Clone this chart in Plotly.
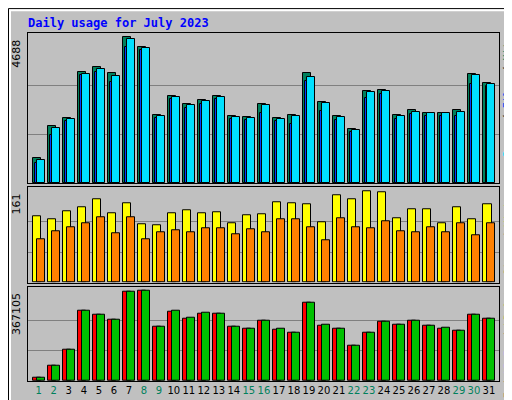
import plotly.graph_objects as go
from plotly.subplots import make_subplots

days = list(range(1, 32))
weekend = [1, 2, 8, 9, 15, 16, 22, 23, 29, 30]

hits = [820, 1843, 2098, 3568, 3728, 3536, 4688, 4367, 2194, 2801, 2545, 2673, 2801, 2162, 2130, 2545,
        2098, 2194, 3536, 2609, 2162, 1747, 2961, 2993, 2194, 2354, 2258, 2258, 2354, 3504, 3216]
files = [756, 1779, 2066, 3504, 3664, 3440, 4622, 4335, 2162, 2769, 2514, 2641, 2769, 2130, 2098, 2514,
         2066, 2162, 3408, 2577, 2130, 1715, 2929, 2961, 2162, 2290, 2258, 2258, 2290, 3472, 3185]
pages = [660, 1555, 2002, 3472, 3568, 3249, 4367, 4271, 2098, 2705, 2417, 2545, 2705, 2066, 2034, 2258,
         2002, 1907, 3280, 2322, 2034, 1651, 2737, 2865, 2066, 2226, 2162, 2162, 2162, 3185, 3121]
visits = [117, 112, 126, 133, 147, 122, 140, 103, 101, 122, 128, 122, 124, 105, 119, 121,
          142, 140, 138, 107, 154, 147, 161, 159, 114, 129, 129, 105, 133, 112, 138]
sites = [77, 91, 98, 105, 115, 87, 115, 77, 89, 93, 89, 96, 96, 86, 94, 89,
         112, 112, 98, 75, 114, 98, 96, 108, 91, 89, 98, 89, 105, 84, 105]
kb_f = [12058, 60291, 128621, 285377, 269300, 249203, 361746, 367105, 221067, 281358, 253222, 273319,
        273319, 221067, 213028, 245184, 209009, 196951, 317533, 225086, 213028, 144698, 196951, 241165,
        229106, 245184, 225086, 213028, 204989, 269300, 253222]
kb_out = [12058, 60291, 128621, 285377, 269300, 249203, 361746, 367105, 221067, 285377, 257242, 277338,
          273319, 221067, 213028, 245184, 213028, 196951, 317533, 229106, 213028, 144698, 196951, 241165,
          229106, 245184, 225086, 217047, 204989, 269300, 253222]

GREY = "#C0C0C0"
line = dict(color="black", width=1)

fig = make_subplots(rows=3, cols=1, shared_xaxes=True)

def bars(y, color, x0, x1, row):
    fig.add_trace(go.Bar(x=days, y=y, offset=x0, width=x1 - x0, marker=dict(color=color, line=line),
                         showlegend=False, hoverinfo="skip"), row=row, col=1)

bars(hits, "#00805C", -0.39, 0.13, 1)
bars(files, "#00E0FF", -0.12, 0.39, 1)
bars(pages, "#0040FF", -0.23, -0.10, 1)
bars(visits, "#FFFF00", -0.39, 0.17, 2)
bars(sites, "#FF8000", -0.10, 0.39, 2)
bars(kb_f, "#FF0000", -0.39, 0.13, 3)
bars(kb_out, "#00C000", -0.14, 0.39, 3)

ticktext = [f"<span style='color:#00805C'>{d}</span>" if d in weekend else str(d) for d in days]

fig.update_xaxes(range=[0.28, 31.67], showgrid=False, showline=True, linecolor="black", mirror=True,
                 ticks="", tickvals=days, ticktext=ticktext, tickangle=0,
                 tickfont=dict(family="DejaVu Sans", size=10, color="black"))
fig.update_xaxes(showticklabels=False, row=1, col=1)
fig.update_xaxes(showticklabels=False, row=2, col=1)

def px(x):
    return (x - 20) / 471
def py(y):
    return (376 - y) / 351

maxes = [max(hits), max(visits), max(kb_out)]
tops = [4825, 168.5, 382000]
doms = [[0.570, 1.0], [0.285, 0.558], [0.003, 0.273]]
labels = [
    "<span style='color:#00E0FF'>Pages</span> / <span style='color:#0040FF'>Files</span> / <span style='color:#00805C'>Hits</span>",
    "<span style='color:#FF8000'>Sites</span> / <span style='color:#FFFF00'>Visits</span>",
    "<span style='color:#FF0000'>kB F</span> / <span style='color:#0080FF'>kB In</span> / <span style='color:#00C000'>kB Out</span>",
]
for i in range(3):
    fig.update_yaxes(range=[0, tops[i]], domain=doms[i], tickvals=[maxes[i] / 3, 2 * maxes[i] / 3],
                     showticklabels=False, gridcolor="#808080", zeroline=False, showline=True,
                     linecolor="black", mirror=True, row=i + 1, col=1)
    yref = "y" if i == 0 else f"y{i + 1}"
    fig.add_annotation(xref="paper", yref=yref, x=px(17), y=maxes[i], xanchor="right", yanchor="top",
                       text=str(maxes[i]), textangle=-90, showarrow=False,
                       font=dict(family="DejaVu Sans", size=11, color="black"))
    fig.add_annotation(xref="paper", yref="paper", x=px(500), y=doms[i][1] - 0.005, xanchor="center",
                       yanchor="top", text=labels[i], textangle=-90, showarrow=False,
                       font=dict(family="DejaVu Sans Mono", size=10, color="black"))

fig.add_annotation(xref="paper", yref="paper", x=px(18), y=py(15), xanchor="left", yanchor="middle",
                   text="<b>Daily usage for July 2023</b>", showarrow=False,
                   font=dict(family="DejaVu Sans Mono", size=12, color="#0000FF"))

# outer frame with bevel
fig.add_shape(type="rect", xref="paper", yref="paper", x0=px(0.5), x1=px(511.5), y0=py(399.5), y1=py(0.5),
              line=dict(color="black", width=1))
fig.add_shape(type="path", xref="paper", yref="paper",
              path=f"M {px(2)} {py(397)} L {px(2)} {py(2)} L {px(509)} {py(2)}", line=dict(color="white", width=2))
fig.add_shape(type="path", xref="paper", yref="paper",
              path=f"M {px(509)} {py(2)} L {px(509)} {py(397)} L {px(2)} {py(397)}", line=dict(color="#808080", width=2))

fig.update_layout(width=512, height=400, margin=dict(l=20, r=21, t=25, b=24), barmode="overlay",
                  paper_bgcolor=GREY, plot_bgcolor=GREY, bargap=0)
fig.write_html("out.html")
